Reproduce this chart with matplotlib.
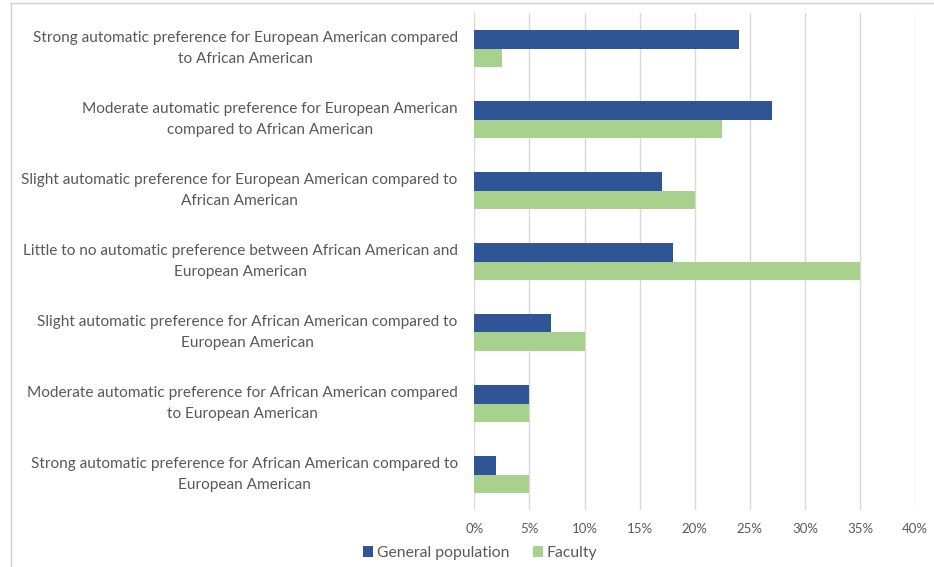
import matplotlib
matplotlib.use("Agg")
import matplotlib.pyplot as plt
from matplotlib.ticker import PercentFormatter, MultipleLocator
from matplotlib.lines import Line2D
import numpy as np

plt.rcParams['font.family'] = ['Lato', 'DejaVu Sans']

categories = [
    "Strong automatic preference for European American compared\nto African American",
    "Moderate automatic preference for European American\ncompared to African American",
    "Slight automatic preference for European American compared to\nAfrican American",
    "Little to no automatic preference between African American and\nEuropean American",
    "Slight automatic preference for African American compared to\nEuropean American",
    "Moderate automatic preference for African American compared\nto European American",
    "Strong automatic preference for African American compared to\nEuropean American",
]
general_population = [24, 27, 17, 18, 7, 5, 2]
faculty = [2.5, 22.5, 20, 35, 10, 5, 5]
series_names = ["General population", "Faculty"]

BLUE = "#2F5597"
GREEN = "#A9D18E"
TEXT = "#595959"

fig = plt.figure(figsize=(9.34, 5.67), dpi=100)
ax = fig.add_axes([474.3 / 934, 1 - 510 / 567, 441 / 934, 497 / 567])

y = np.arange(len(categories))
h = 0.258
ax.barh(y - h / 2, general_population, height=h, color=BLUE, label=series_names[0], zorder=3)
ax.barh(y + h / 2, faculty, height=h, color=GREEN, label=series_names[1], zorder=3)

ax.set_xlim(0, 40)
ax.set_ylim(len(categories) - 0.5, -0.5)
ax.xaxis.set_major_locator(MultipleLocator(5))
ax.xaxis.set_major_formatter(PercentFormatter(decimals=0))
ax.grid(axis="x", color="#D9D9D9", linewidth=1, zorder=0)
ax.set_axisbelow(True)
for s in ax.spines.values():
    s.set_visible(False)

ax.set_yticks(y)
ax.set_yticklabels(categories, multialignment="center", fontsize=11.1,
                   color=TEXT, linespacing=1.65)
for lbl in ax.get_yticklabels():
    lbl.set_verticalalignment("center")
ax.tick_params(axis="y", length=0, pad=12)
ax.tick_params(axis="x", length=0, pad=9.5, labelsize=9.5, labelcolor=TEXT)

# Chart frame (top and left edges)
fig.add_artist(Line2D([11 / 934, 1], [1 - 3 / 567, 1 - 3 / 567], color="#D0D0D0", lw=1, transform=fig.transFigure))
fig.add_artist(Line2D([11 / 934, 11 / 934], [0, 1 - 3 / 567], color="#D0D0D0", lw=1, transform=fig.transFigure))

fig.legend(loc="center", bbox_to_anchor=(480 / 934, 1 - 553 / 567), ncol=2, frameon=False,
           fontsize=11.3, labelcolor=TEXT, handlelength=0.65, handleheight=0.65,
           handletextpad=0.25, columnspacing=1.5)

fig.savefig("out.png", dpi=100, facecolor="white")
